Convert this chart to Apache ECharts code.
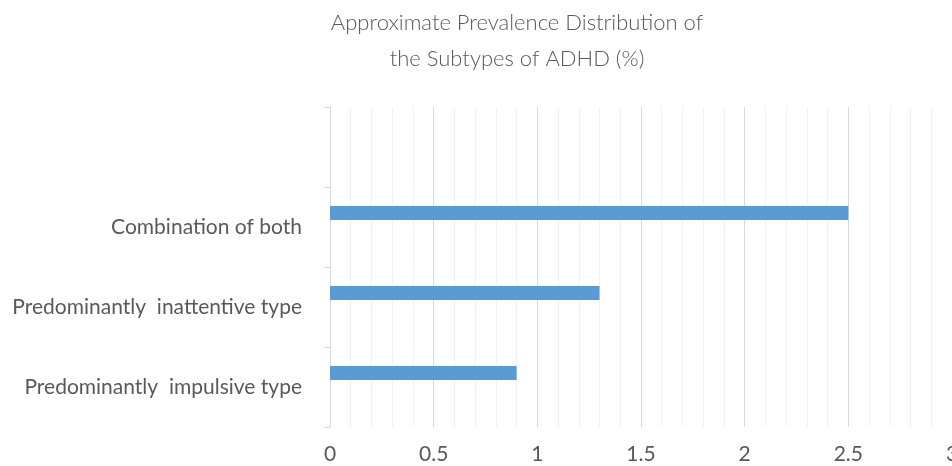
<!DOCTYPE html>
<html>
<head>
<meta charset="utf-8">
<script src="https://cdn.jsdelivr.net/npm/echarts@6/dist/echarts.min.js"></script>
<style>
  html, body { margin: 0; padding: 0; background: #fff; }
  #chart { width: 952px; height: 466px; }
</style>
</head>
<body>
<div id="chart"></div>
<script>
// categories bottom -> top (top slot is empty, as in the original)
const categories = ['Predominantly  impulsive type', 'Predominantly  inattentive type', 'Combination of both', ''];
const prevalence = [0.9, 1.3, 2.5, null];
const xTicks = [0, 0.5, 1, 1.5, 2, 2.5, 3];

const chart = echarts.init(document.getElementById('chart'));

const option = {
  animation: false,
  title: {
    text: 'Approximate Prevalence Distribution of\nthe Subtypes of ADHD (%)',
    left: 512,
    top: 0,
    textAlign: 'center',
    textStyle: {
      fontFamily: 'Lato',
      fontWeight: 300,
      fontSize: 22,
      lineHeight: 36,
      color: '#595959'
    }
  },
  grid: {
    left: 330,
    right: 0,
    top: 107,
    bottom: 39,
    containLabel: false,
    outerBoundsMode: 'none'
  },
  xAxis: {
    type: 'value',
    min: xTicks[0],
    max: xTicks[xTicks.length - 1],
    interval: 0.5,
    axisLine: { show: false },
    axisTick: { show: false },
    axisLabel: {
      fontFamily: 'Lato',
      fontSize: 21,
      color: '#595959',
      margin: 17,
      showMaxLabel: true
    },
    splitLine: { show: true, lineStyle: { color: '#d9d9d9', width: 1 } },
    minorTick: { show: false, splitNumber: 5 },
    minorSplitLine: { show: true, lineStyle: { color: '#f0f0f0', width: 1 } }
  },
  yAxis: {
    type: 'category',
    data: categories,
    axisLine: { show: true, lineStyle: { color: '#d9d9d9', width: 1 } },
    axisTick: { show: true, length: 6, lineStyle: { color: '#d9d9d9' } },
    axisLabel: {
      fontFamily: 'Lato',
      fontSize: 21,
      color: '#595959',
      margin: 28
    },
    splitLine: { show: false }
  },
  series: [
    {
      name: 'Prevalence',
      type: 'bar',
      data: prevalence,
      barWidth: 14,
      barGap: '100%',
      itemStyle: { color: '#5b9bd5' }
    },
    {
      name: 'empty',
      type: 'bar',
      data: [],
      barWidth: 14
    }
  ]
};

chart.setOption(option);
</script>
</body>
</html>
